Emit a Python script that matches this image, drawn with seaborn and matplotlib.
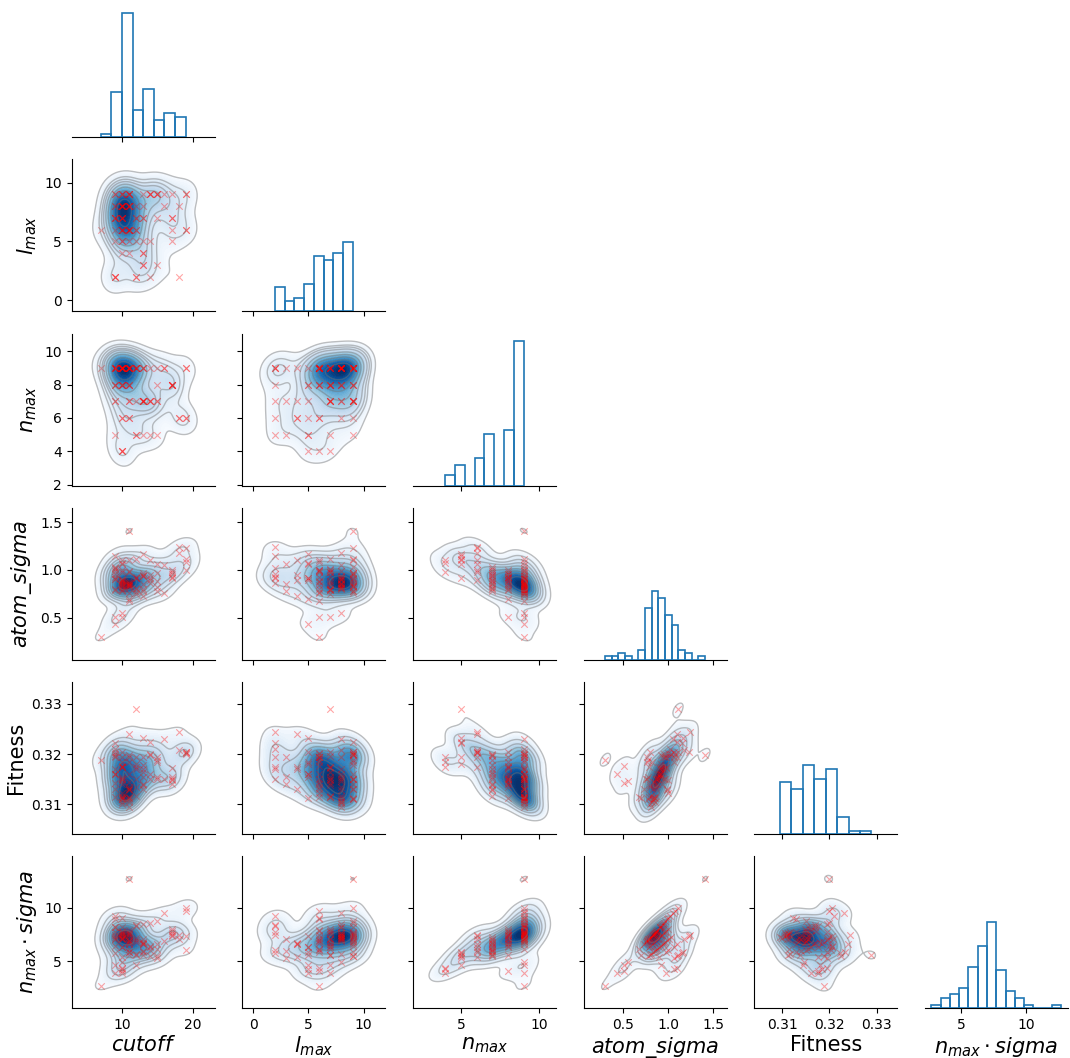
import numpy as np
import pandas as pd
import matplotlib.pyplot as plt
import seaborn as sns

cutoff = [7, 12, 11, 9, 10, 9, 10, 11, 11, 13,
          10, 10, 10, 9, 13, 14, 15, 12, 18, 19,
          18, 11, 10, 11, 19, 10, 9, 9, 11, 13,
          13, 14, 14, 13, 15, 14, 13, 11, 12, 13,
          15, 17, 17, 17, 17, 17, 9, 9, 10, 10,
          11, 11, 15, 9, 10, 10, 10, 10, 10, 10,
          10, 10, 10, 10, 10, 11, 11, 11, 11, 11,
          11, 11, 9, 9, 9, 9, 9, 12, 12, 12,
          12, 12, 13, 13, 14, 15, 16, 16, 19, 19]
l_max = [6, 7, 9, 5, 6, 7, 8, 6, 5, 4,
         5, 6, 7, 2, 5, 9, 3, 5, 2, 9,
         8, 4, 5, 6, 6, 4, 9, 7, 8, 9,
         7, 9, 5, 4, 7, 2, 3, 9, 8, 7,
         9, 7, 7, 9, 6, 5, 8, 2, 8, 9,
         8, 6, 9, 7, 7, 8, 8, 9, 7, 8,
         9, 7, 6, 8, 6, 8, 8, 9, 8, 9,
         6, 6, 9, 8, 6, 2, 7, 7, 6, 2,
         2, 6, 8, 3, 9, 9, 8, 9, 9, 6]
n_max = [9, 5, 9, 9, 8, 9, 9, 9, 8, 9,
         4, 4, 4, 5, 5, 5, 5, 5, 6, 6,
         6, 6, 6, 6, 6, 6, 7, 7, 7, 7,
         7, 7, 7, 7, 7, 7, 7, 7, 7, 7,
         7, 8, 8, 8, 8, 8, 8, 8, 8, 8,
         8, 8, 8, 8, 8, 9, 9, 9, 9, 9,
         9, 9, 9, 9, 9, 9, 9, 9, 9, 9,
         9, 9, 9, 9, 9, 9, 9, 9, 9, 9,
         9, 9, 9, 9, 9, 9, 9, 9, 9, 9]
atom_sigma = [0.30, 1.11, 1.41, 0.435, 0.505, 0.51, 0.55, 0.68, 0.70, 0.73,
              1.07, 1.10, 0.98, 1.15, 1.17, 1.10, 1.06, 0.92, 1.24, 1.23,
              1.18, 1.10, 1.06, 0.98, 1.00, 0.90, 1.03, 1.01, 0.99, 0.97,
              0.94, 0.92, 0.90, 0.95, 0.88, 0.86, 0.85, 0.83, 0.81, 0.80,
              0.78, 0.98, 1.00, 0.955, 0.93, 0.92, 0.925, 0.96, 0.89, 0.88,
              0.86, 0.84, 0.82, 0.80, 0.79, 0.80, 0.82, 0.83, 0.84, 0.85,
              0.78, 0.86, 0.87, 0.905, 1.00, 0.81, 0.83, 0.84, 0.85, 0.86,
              0.76, 0.88, 0.905, 0.91, 0.99, 1.02, 0.79, 0.75, 0.77, 0.92,
              0.93, 0.80, 0.94, 0.78, 0.95, 0.97, 1.05, 0.76, 1.11, 1.08]
fitness = [0.3189, 0.3289, 0.3198, 0.3161, 0.3176, 0.3143, 0.3147, 0.3115, 0.3113, 0.3130,
           0.3185, 0.3195, 0.3175, 0.3222, 0.3232, 0.3225, 0.3195, 0.3180, 0.3243, 0.3205,
           0.3208, 0.3239, 0.3205, 0.3195, 0.3203, 0.3175, 0.3200, 0.3196, 0.3128, 0.3178,
           0.3165, 0.3198, 0.3160, 0.3170, 0.3155, 0.3150, 0.3140, 0.3130, 0.3116, 0.3138,
           0.3188, 0.3172, 0.3148, 0.3150, 0.3140, 0.3155, 0.3160, 0.3195, 0.3150, 0.3140,
           0.3135, 0.3145, 0.3185, 0.3205, 0.3175, 0.3100, 0.3105, 0.3110, 0.3115, 0.3112,
           0.3110, 0.3117, 0.3150, 0.3155, 0.3122, 0.3095, 0.3108, 0.3112, 0.3105, 0.3130,
           0.3185, 0.3160, 0.3160, 0.3170, 0.3130, 0.3210, 0.3114, 0.3150, 0.3195, 0.3175,
           0.3170, 0.3135, 0.3194, 0.3155, 0.3200, 0.3150, 0.3230, 0.3150, 0.3205, 0.3200]

labels = ['$cutoff$', '$l_{max}$', '$n_{max}$', '$atom\\_sigma$', 'Fitness', '$n_{max} \\cdot sigma$']

df = pd.DataFrame({labels[0]: cutoff, labels[1]: l_max, labels[2]: n_max,
                   labels[3]: atom_sigma, labels[4]: fitness})
df[labels[5]] = df[labels[2]] * df[labels[3]]

g = sns.PairGrid(df, corner=True, height=1.75)
g.map_lower(sns.kdeplot, fill=True, cmap='Blues', levels=60, thresh=0.05)
g.map_lower(sns.kdeplot, color='0.45', alpha=0.45, levels=10, linewidths=1)
g.map_lower(sns.scatterplot, marker='x', color='red', alpha=0.35, s=22, linewidth=0.8)
g.map_diag(sns.histplot, fill=False, color='#1f77b4', linewidth=1.2)

for ax in g.axes.flat:
    if ax is None:
        continue
    ax.set_xlabel(ax.get_xlabel(), fontsize=15, labelpad=2)
    ax.set_ylabel(ax.get_ylabel(), fontsize=15, labelpad=4)

g.figure.set_size_inches(10.7, 10.58)
g.figure.subplots_adjust(left=0.067, right=0.998, bottom=0.047, top=1.014,
                         wspace=0.193, hspace=0.146)
g.figure.savefig('out.png', dpi=100)
